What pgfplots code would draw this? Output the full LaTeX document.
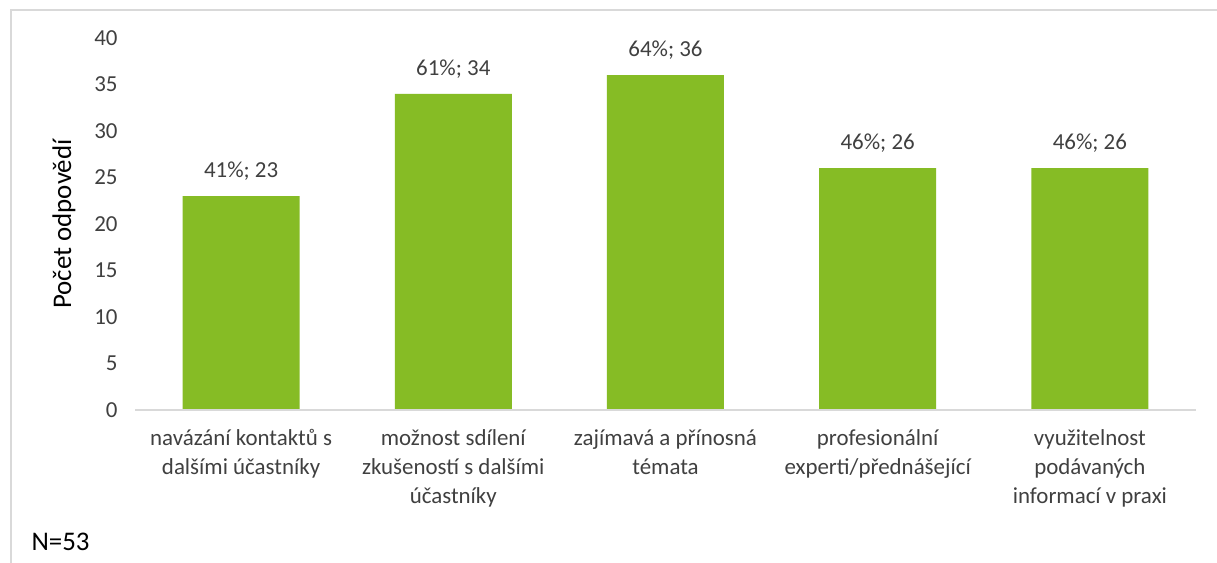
\documentclass[border=0pt]{standalone}
\usepackage{pgfplots}
\pgfplotsset{compat=1.18}
\usepackage{fontspec}
\setmainfont{Carlito}
\definecolor{bargreen}{HTML}{86BC25}
\definecolor{txt}{HTML}{404040}
\definecolor{frame}{HTML}{D9D9D9}
\begin{document}
\begin{tikzpicture}
\path[use as bounding box] (0,0) rectangle (1217bp,563bp);
\fill[white] (0,0) rectangle (1217bp,563bp);
\draw[frame, line width=2.5bp] (11bp,0) -- (11bp,553bp) -- (1217bp,553bp);
\begin{axis}[
  at={(135bp,153bp)}, anchor=south west,
  scale only axis,
  width=1061bp, height=372bp,
  xmin=-0.5, xmax=4.5,
  ymin=0, ymax=40,
  ytick={0,5,...,40},
  xtick=data,
  xticklabels={
    {navázání kontaktů s\\dalšími účastníky},
    {možnost sdílení\\zkušeností s dalšími\\účastníky},
    {zajímavá a přínosná\\témata},
    {profesionální\\experti/přednášející},
    {využitelnost\\podávaných\\informací v praxi}},
  axis line style={draw=none},
  axis x line*=bottom,
  axis y line*=left,
  major tick length=0pt,
  /pgf/number format/assume math mode=true,
  tick label style={font=\fontsize{23}{29}\selectfont, text=txt},
  yticklabel style={xshift=-14bp},
  xticklabel style={align=center, yshift=-16bp},
  ylabel={Počet odpovědí},
  ylabel style={font=\fontsize{27}{32}\selectfont, text=black, at={(axis description cs:0,0.5)}, anchor=center, yshift=71bp},
  ybar, bar width=117bp,
  nodes near coords={\pgfplotspointmeta\%;\ \pgfmathprintnumber{\pgfkeysvalueof{/data point/y}}},
  point meta=explicit symbolic,
  nodes near coords style={font=\fontsize{23}{28}\selectfont, text=txt, anchor=south, yshift=12bp},
  clip=false,
]
\addplot[fill=bargreen, draw=none] table[x=x, y=y, meta=p] {
x y p
0 23 41
1 34 61
2 36 64
3 26 46
4 26 46
};
\draw[frame, line width=2bp] (axis cs:-0.5,0) -- (axis cs:4.5,0);
\end{axis}
\node[anchor=west, font=\fontsize{27}{32}\selectfont, text=black] at (28bp,21bp) {N=53};
\end{tikzpicture}
\end{document}
